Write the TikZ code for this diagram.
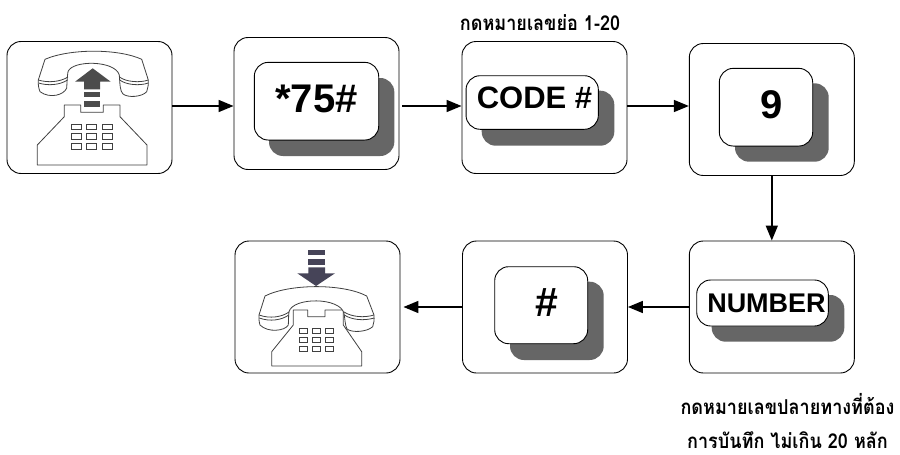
\documentclass[tikz,border=0pt]{standalone}
\usepackage{fontspec}
\setmainfont{Liberation Sans}
\newfontfamily\thaifont[Script=Thai,FakeStretch=0.88]{Loma}
\usetikzlibrary{arrows.meta}
\definecolor{shadowgray}{gray}{0.4}
\definecolor{iconup}{gray}{0.3}
\definecolor{icondown}{RGB}{70,68,88}
\tikzset{
 panel/.style={draw=black,line width=0.9pt,fill=white,rounded corners=14pt,minimum width=165pt,minimum height=132pt,inner sep=0pt},
 keycap/.style={draw=black,line width=0.9pt,fill=white,rounded corners=14pt,inner sep=0pt},
 keytext/.style={inner sep=0pt,font=\bfseries\fontsize{#1}{#1}\selectfont},
 flow/.style={line width=1.6pt,-{Triangle[length=15pt,width=12pt]}},
 caption/.style={font=\thaifont\bfseries\fontsize{20.5}{22}\selectfont,inner sep=0pt},
 phoneline/.style={draw=black!75,line width=0.8pt,fill=white,line join=round},
 phonethin/.style={draw=black!75,line width=0.8pt},
}
\begin{document}
\begin{tikzpicture}[x=1pt,y=-1pt]
\useasboundingbox (0,0) rectangle (900,455);
\coordinate (rowa) at (0,106);
\coordinate (rowb) at (0,307);
% panels
\node[panel] (p1) at (89.5,107.5) {};
\node[panel] (p2) at (316.5,103.5) {};
\node[panel] (p3) at (544.5,107.5) {};
\node[panel] (p4) at (771.8,109.5) {};
\node[panel] (p5) at (771.8,307) {};
\node[panel] (p6) at (545,307) {};
\node[panel] (p7) at (317.5,307) {};
% key shadows
\fill[shadowgray,rounded corners=14pt] (269,78) rectangle (394.3,156);
\fill[shadowgray,rounded corners=14pt] (481.7,90.7) rectangle (614.3,145.7);
\fill[shadowgray,rounded corners=14pt] (735,83.3) rectangle (828.7,161.7);
\fill[shadowgray,rounded corners=14pt] (711.7,295) rectangle (844.3,341.7);
\fill[shadowgray,rounded corners=14pt] (510,281.7) rectangle (603.7,360);
% keys
\node[keycap,minimum width=124.4pt,minimum height=77.7pt] (k2) at (316.5,101.2) {};
\node[keycap,minimum width=132.3pt,minimum height=53.6pt] (k3) at (532.2,102.5) {};
\node[keycap,minimum width=93.4pt,minimum height=77.7pt] (k4) at (766,107.2) {};
\node[keycap,minimum width=131.6pt,minimum height=46pt] (k5) at (762.5,303) {};
\node[keycap,minimum width=93pt,minimum height=77pt] (k6) at (541.2,305.2) {};
\node[keytext=40] (t2) at (316.5,99) {*75\#};
\node[keytext=31] (t3) at (534.5,98) {CODE \#};
\node[keytext=40] (t4) at (771.7,105) {9};
\node[keytext=27] (t5) at (766.5,303) {NUMBER};
\node[keytext=41] (t6) at (546.7,303) {\#};
% phone up
\draw[phoneline] (37.3,165) -- (147,165) -- (147,145) -- (120,116.7) -- (120,105) -- (103.3,105) -- (103.3,112.3) -- (80.7,112.3) -- (80.7,105) -- (64.3,105) -- (64.3,116.7) -- (37.3,145) -- cycle;
\draw[phoneline] (45,59.3) .. controls (70,48.5) and (118,48.5) .. (141.7,59.3) -- (148.3,80) .. controls (148.5,85) and (148,88) .. (146.7,91.7) .. controls (142,97) and (128,98) .. (123,94) .. controls (120,91) and (120,85) .. (119.3,75) .. controls (115,60) and (72,60) .. (68,71.7) .. controls (67,78) and (67,84) .. (66.7,88) .. controls (64,95) and (50,99) .. (40,91.7) .. controls (38.5,88) and (38,84) .. (38.3,80) -- cycle;
\draw[phonethin] (38.3,80) .. controls (48,83) and (60,82) .. (68,77);
\draw[phonethin] (38.6,83) .. controls (48,86) and (60,85) .. (67.5,80);
\draw[phonethin] (119.5,77) .. controls (126,82) and (140,83) .. (148.3,80);
\draw[phonethin] (119.8,80) .. controls (126,85) and (140,86) .. (148.3,83);
\foreach \r in {0,1,2}{\foreach \c in {0,1,2}{\draw[phonethin] (71+\c*15.7,124+\r*9.8) rectangle ++(10,5.5);}}
\fill[iconup] (92.7,68.3) -- (110.7,81.7) -- (100,81.7) -- (100,89.3) -- (84,89.3) -- (84,81.7) -- (75,81.7) -- cycle;
\fill[iconup] (84,91.7) rectangle (100,97.3);
\fill[iconup] (84,101) rectangle (100,106.7);
% phone down
\draw[phoneline] (271.7,366) -- (361.7,366) -- (361.7,351.7) -- (343.3,325) -- (343.3,310) -- (325,310) -- (325,316.7) -- (307.7,316.7) -- (307.7,310) -- (293.3,310) -- (293.3,325) -- (271.7,351.7) -- cycle;
\draw[phoneline] (265,296) .. controls (290,283.5) and (343,283.5) .. (366.7,296) -- (374,315) .. controls (374.3,320) and (374,323) .. (372.7,326.7) .. controls (367,332) and (352,333) .. (347,329) .. controls (345,325) and (345,319) .. (344,313.3) .. controls (340,297) and (293,297) .. (289,311.7) .. controls (288.5,316) and (288.5,321) .. (288.3,325) .. controls (285,331) and (268,333) .. (260,325) .. controls (259,322) and (258.8,318) .. (259,315) -- cycle;
\draw[phonethin] (259,315) .. controls (270,319) and (282,317) .. (289,312);
\draw[phonethin] (259.3,318) .. controls (270,322) and (282,320) .. (288.7,315);
\draw[phonethin] (344,312) .. controls (352,317) and (364,318) .. (374,315);
\draw[phonethin] (344.3,315) .. controls (352,320) and (364,321) .. (374.2,318);
\foreach \r in {0,1,2}{\foreach \c in {0,1,2}{\draw[phonethin] (299.3+\c*12.85,328.3+\r*9.2) rectangle ++(8,5);}}
\fill[icondown] (308.3,250) rectangle (325,255);
\fill[icondown] (308.3,259) rectangle (325,265);
\fill[icondown] (308.3,267.3) -- (325,267.3) -- (325,273.3) -- (335,273.3) -- (316,286) -- (297.3,273.3) -- (308.3,273.3) -- cycle;
% connectors
\draw[flow] (p1.east |- rowa) -- (p2.west |- rowa);
\draw[flow,shorten <=3pt] (p2.east |- rowa) -- (p3.west |- rowa);
\draw[flow] (p3.east |- rowa) -- (p4.west |- rowa);
\draw[flow] (p4.south) -- (p5.north);
\draw[flow] (p5.west |- rowb) -- (p6.east |- rowb);
\draw[flow,shorten >=3pt] (p6.west |- rowb) -- (p7.east |- rowb);
% captions
\node[caption] (c1) at (540,23) {กดหมายเลขย่อ 1-20};
\node[caption] (c2) at (787.5,404) {กดหมายเลขปลายทางที่ต้อง};
\node[caption] (c3) at (787.5,440) {การบันทึก ไม่เกิน 20 หลัก};
\end{tikzpicture}
\end{document}
